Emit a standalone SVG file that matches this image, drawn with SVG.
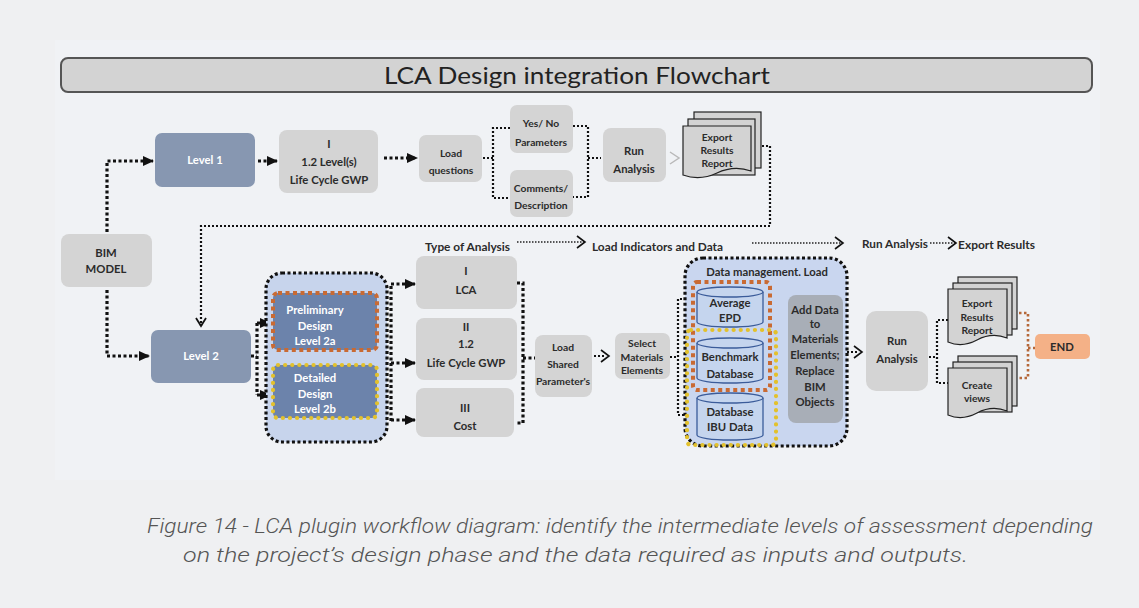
<svg xmlns="http://www.w3.org/2000/svg" width="1139" height="608" viewBox="0 0 1139 608">
<defs>
<style>
.t{font-family:Lato,"Liberation Sans",sans-serif;font-weight:700;font-size:11.3px;fill:#2b2b2b;text-anchor:middle}
.tw{fill:#ffffff}
.s{font-size:10.3px}
.lbl{font-family:Lato,"Liberation Sans",sans-serif;font-weight:700;font-size:11.5px;fill:#2b2b2b}
.box{fill:#d4d4d4}
.lvl{fill:#8797b1}
.blue{fill:#6c83ab}
.doc{fill:#d3d3d3;stroke:#222;stroke-width:1.2}
.cyl{fill:#c5d5ee;stroke:#3b5c9a;stroke-width:1.3}
.dk{fill:none;stroke:#111;stroke-width:3.2;stroke-dasharray:3 2.5}
.dm{fill:none;stroke:#111;stroke-width:2.2;stroke-dasharray:2 2}
.dt{fill:none;stroke:#222;stroke-width:1.4;stroke-dasharray:1.5 1.5}
.or{fill:none;stroke:#c96a33;stroke-width:4;stroke-dasharray:4 3.5}
.ye{fill:none;stroke:#e3c12c;stroke-width:4.2;stroke-linecap:round;stroke-dasharray:0.1 7}
.chev{fill:none;stroke:#111;stroke-width:1.6}
</style>
<marker id="tri" markerUnits="userSpaceOnUse" markerWidth="11" markerHeight="10" refX="10" refY="5" orient="auto">
<path d="M0,0 L11,5 L0,10 Z" fill="#111"/>
</marker>
<marker id="vee" markerUnits="userSpaceOnUse" markerWidth="12" markerHeight="12" refX="9" refY="6" orient="auto">
<path d="M1,1 L9,6 L1,11" fill="none" stroke="#111" stroke-width="1.8"/>
</marker>
</defs>

<rect x="0" y="0" width="1139" height="608" fill="#eff0f2"/>
<rect x="55" y="40" width="1045" height="440" fill="#f0f2f5"/>

<g id="title">
<rect x="61" y="58" width="1031" height="34" rx="7" fill="#d3d3d3" stroke="#555" stroke-width="2"/>
<text x="577" y="84" font-family="Lato,'Liberation Sans',sans-serif" font-size="24" fill="#222" text-anchor="middle" textLength="386" lengthAdjust="spacingAndGlyphs">LCA Design integration Flowchart</text>
</g>

<g id="connectors">
<path class="dk" d="M107,232 V161 H153" marker-end="url(#tri)"/>
<path class="dk" d="M107,290 V356 H149" marker-end="url(#tri)"/>
<path class="dk" d="M258,161 H277" marker-end="url(#tri)"/>
<path class="dk" d="M384,158 H417" marker-end="url(#tri)"/>
<path class="dm" d="M483,158 H493 M510,128 H493 V198 H510"/>
<path class="dm" d="M573,126 H588 V197 H573 M588,158 H601"/>
<polyline points="670,152 679,158 670,164" fill="none" stroke="#b9b9b9" stroke-width="1.5"/>
<path class="dm" d="M762,146 H770 V226 H201 V326" marker-end="url(#vee)"/>
<path class="dk" d="M251,356 H257 M257,323 V395"/>
<path class="dk" d="M257,323 H270" marker-end="url(#tri)"/>
<path class="dk" d="M257,395 H270" marker-end="url(#tri)"/>
<path class="dk" d="M391,286 V421"/>
<path class="dk" d="M391,284 H415" marker-end="url(#tri)"/>
<path class="dk" d="M391,363 H415" marker-end="url(#tri)"/>
<path class="dk" d="M391,420 H415" marker-end="url(#tri)"/>
<path class="dk" d="M517,283 H523 V423 H516 M523,358 H535"/>
<path class="dm" d="M594,356 H604"/>
<polyline class="chev" points="601,350 609,356 601,362"/>
<path class="dm" d="M670,357 H678 M690,299 H678 V415 H690"/>
<path class="dm" d="M770,298 H778 V403 H770 M778,350 H787"/>
<path class="dm" d="M847,352 H858"/>
<polyline class="chev" points="854,346 862,352 854,358"/>
<path class="dm" d="M929,357 H937 M948,320 H937 V383 H948"/>
<path d="M1019,313 H1028 V378 H1019 M1028,348 H1035" fill="none" stroke="#b5683a" stroke-width="2.6" stroke-dasharray="2.5 2.5"/>
<path class="dt" d="M517,242 H584"/>
<polyline class="chev" points="577,236 585,242 577,248"/>
<path class="dt" d="M752,243 H842"/>
<polyline class="chev" points="835,237 843,243 835,249"/>
<path class="dt" d="M930,243 H955"/>
<polyline class="chev" points="948,237 956,243 948,249"/>
</g>

<g id="labels">
<text class="lbl" x="425" y="251" textLength="85" lengthAdjust="spacingAndGlyphs">Type of Analysis</text>
<text class="lbl" x="592" y="251" textLength="131" lengthAdjust="spacingAndGlyphs">Load Indicators and Data</text>
<text class="lbl" x="862" y="248" textLength="66" lengthAdjust="spacingAndGlyphs">Run Analysis</text>
<text class="lbl" x="958" y="249" textLength="77" lengthAdjust="spacingAndGlyphs">Export Results</text>
</g>

<g id="level1">
<rect class="lvl" x="155" y="133" width="100" height="54" rx="7"/>
<text class="t tw" x="205" y="164">Level 1</text>
</g>
<g id="lifecycle1">
<rect class="box" x="279" y="130" width="99" height="63" rx="8"/>
<text class="t" x="329" y="148">I</text>
<text class="t" x="329" y="166">1.2 Level(s)</text>
<text class="t" x="329" y="184">Life Cycle GWP</text>
</g>
<g id="loadquestions">
<rect class="box" x="419" y="135" width="63" height="47" rx="7"/>
<text class="t s" x="451" y="157">Load</text>
<text class="t s" x="451" y="174">questions</text>
</g>
<g id="yesno">
<rect class="box" x="510" y="105" width="63" height="48" rx="7"/>
<text class="t s" x="541" y="127">Yes/ No</text>
<text class="t s" x="541" y="146">Parameters</text>
</g>
<g id="comments">
<rect class="box" x="510" y="170" width="63" height="47" rx="7"/>
<text class="t s" x="541" y="192">Comments/</text>
<text class="t s" x="541" y="209">Description</text>
</g>
<g id="runanalysis1">
<rect class="box" x="603" y="128" width="63" height="54" rx="8"/>
<text class="t" x="634" y="155">Run</text>
<text class="t" x="634" y="173">Analysis</text>
</g>
<g id="export1">
<rect class="doc" x="694" y="112" width="67" height="56"/>
<rect class="doc" x="688" y="119" width="67" height="56"/>
<path class="doc" d="M683,126 H751 V171 Q734,165 717,173 Q700,181 683,175 Z"/>
<text class="t s" x="717" y="141">Export</text>
<text class="t s" x="717" y="154">Results</text>
<text class="t s" x="717" y="167">Report</text>
</g>

<g id="bim">
<rect class="box" x="61" y="234" width="91" height="53" rx="8"/>
<text class="t" x="106" y="257">BIM</text>
<text class="t" x="106" y="273">MODEL</text>
</g>
<g id="level2">
<rect class="lvl" x="151" y="330" width="100" height="53" rx="7"/>
<text class="t tw" x="201" y="360">Level 2</text>
</g>

<g id="designgroup">
<rect x="266" y="273" width="121" height="169" rx="16" fill="#c7d4ec"/>
<rect class="dk" x="266" y="273" width="121" height="169" rx="16"/>
</g>
<g id="preliminary">
<rect class="blue" x="273" y="293" width="104" height="57" rx="5"/>
<rect class="or" x="273" y="293" width="104" height="57" rx="5"/>
<text class="t tw" x="315" y="314">Preliminary</text>
<text class="t tw" x="315" y="330">Design</text>
<text class="t tw" x="315" y="345">Level 2a</text>
</g>
<g id="detailed">
<rect class="blue" x="273" y="365" width="104" height="53" rx="5"/>
<rect class="ye" x="273" y="365" width="104" height="53" rx="5"/>
<text class="t tw" x="315" y="382">Detailed</text>
<text class="t tw" x="315" y="398">Design</text>
<text class="t tw" x="315" y="413">Level 2b</text>
</g>

<g id="lca">
<rect class="box" x="416" y="256" width="101" height="53" rx="8"/>
<text class="t" x="466" y="275">I</text>
<text class="t" x="466" y="294">LCA</text>
</g>
<g id="lifecycle2">
<rect class="box" x="416" y="318" width="101" height="62" rx="8"/>
<text class="t" x="466" y="331">II</text>
<text class="t" x="466" y="348">1.2</text>
<text class="t" x="466" y="367">Life Cycle GWP</text>
</g>
<g id="cost">
<rect class="box" x="416" y="388" width="98" height="49" rx="8"/>
<text class="t" x="465" y="412">III</text>
<text class="t" x="465" y="430">Cost</text>
</g>
<g id="loadshared">
<rect class="box" x="535" y="335" width="57" height="62" rx="8"/>
<text class="t s" x="563" y="351">Load</text>
<text class="t s" x="563" y="368">Shared</text>
<text class="t s" x="563" y="385">Parameter's</text>
</g>
<g id="select">
<rect class="box" x="615" y="333" width="55" height="46" rx="7"/>
<text class="t s" x="642" y="347">Select</text>
<text class="t s" x="642" y="361">Materials</text>
<text class="t s" x="642" y="374">Elements</text>
</g>

<g id="datamanagement">
<rect x="685" y="258" width="162" height="188" rx="18" fill="#c9d6ef"/>
<rect class="dk" x="685" y="258" width="162" height="188" rx="18"/>
<text class="t" x="767" y="276">Data management. Load</text>
</g>
<g id="averageepd">
<path class="cyl" d="M697,292 V322 A33,5 0 0 0 763,322 V292"/>
<ellipse class="cyl" cx="730" cy="292" rx="33" ry="5"/>
<text class="t" x="730" y="307">Average</text>
<text class="t" x="730" y="322">EPD</text>
</g>
<g id="benchmark">
<path class="cyl" d="M697,343 V378 A33,5 0 0 0 763,378 V343"/>
<ellipse class="cyl" cx="730" cy="343" rx="33" ry="5"/>
<text class="t" x="730" y="361">Benchmark</text>
<text class="t" x="730" y="378">Database</text>
</g>
<g id="ibu">
<path class="cyl" d="M697,398 V435 A33,5 0 0 0 763,435 V398"/>
<ellipse class="cyl" cx="730" cy="398" rx="33" ry="5"/>
<text class="t" x="730" y="416">Database</text>
<text class="t" x="730" y="431">IBU Data</text>
</g>
<rect class="or" x="693" y="282" width="77" height="108" rx="4"/>
<rect class="ye" x="687" y="330" width="89" height="115" rx="4"/>
<g id="adddata">
<rect x="788" y="295" width="55" height="128" rx="8" fill="#a8aeb7"/>
<text class="t" x="815" y="314">Add Data</text>
<text class="t" x="815" y="328">to</text>
<text class="t" x="815" y="343">Materials</text>
<text class="t" x="815" y="359">Elements;</text>
<text class="t" x="815" y="375">Replace</text>
<text class="t" x="815" y="391">BIM</text>
<text class="t" x="815" y="406">Objects</text>
</g>

<g id="runanalysis2">
<rect class="box" x="866" y="311" width="62" height="80" rx="10"/>
<text class="t" x="897" y="345">Run</text>
<text class="t" x="897" y="363">Analysis</text>
</g>
<g id="export2">
<rect class="doc" x="958" y="277" width="59" height="52"/>
<rect class="doc" x="953" y="283" width="59" height="52"/>
<path class="doc" d="M948,289 H1007 V338 Q992,332 977,340 Q962,348 948,342 Z"/>
<text class="t s" x="977" y="307">Export</text>
<text class="t s" x="977" y="321">Results</text>
<text class="t s" x="977" y="334">Report</text>
</g>
<g id="createviews">
<rect class="doc" x="958" y="356" width="59" height="50"/>
<rect class="doc" x="953" y="362" width="59" height="50"/>
<path class="doc" d="M948,368 H1007 V411 Q992,405 977,413 Q962,421 948,415 Z"/>
<text class="t s" x="977" y="389">Create</text>
<text class="t s" x="977" y="402">views</text>
</g>
<g id="end">
<rect x="1035" y="334" width="55" height="25" rx="5" fill="#f4b187"/>
<text class="t" x="1062" y="351">END</text>
</g>

<g id="caption" font-family="Roboto,'Liberation Sans',sans-serif" font-style="italic" font-weight="300" font-size="20" fill="#555">
<text x="147" y="533" textLength="946" lengthAdjust="spacingAndGlyphs">Figure 14 - LCA plugin workflow diagram: identify the intermediate levels of assessment depending</text>
<text x="183" y="562" textLength="785" lengthAdjust="spacingAndGlyphs">on the project’s design phase and the data required as inputs and outputs.</text>
</g>
</svg>
